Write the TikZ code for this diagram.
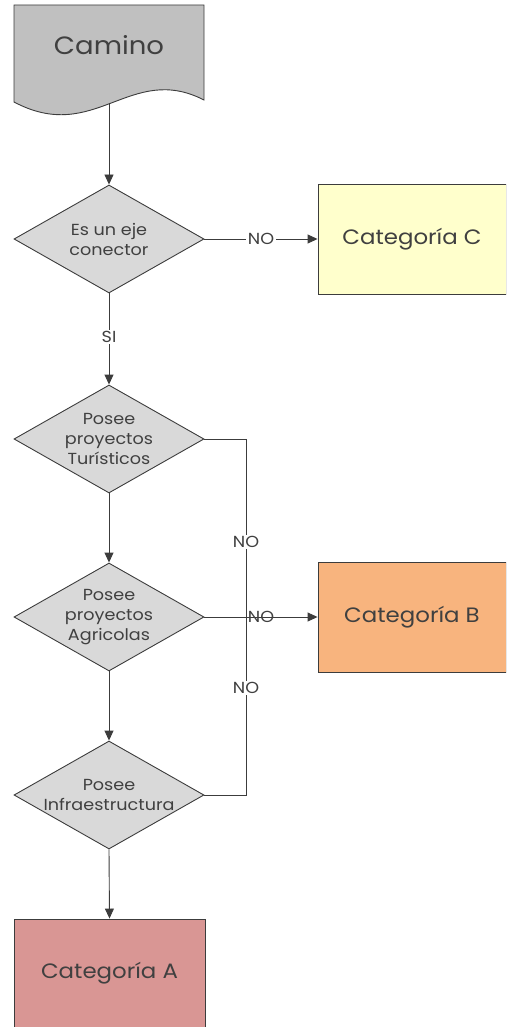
\documentclass[tikz,border=0pt]{standalone}
\usepackage{fontspec}
\setmainfont{Poppins}[FakeStretch=1.1]
\usetikzlibrary{shapes.geometric,arrows.meta}
\definecolor{ln}{HTML}{3C3C3C}
\definecolor{txt}{HTML}{404040}
\definecolor{dgray}{HTML}{D9D9D9}
\definecolor{docgray}{HTML}{C0C0C0}
\definecolor{catc}{HTML}{FFFFCC}
\definecolor{catb}{HTML}{F8B47E}
\definecolor{cata}{HTML}{D99694}
\tikzset{
  dec/.style={diamond, draw=ln, fill=dgray, minimum width=190pt, minimum height=108pt, inner sep=0pt, line width=0.9pt},
  dtext/.style={align=center, text=txt, font=\fontsize{16}{20}\selectfont, inner sep=0pt},
  cat/.style={rectangle, draw=ln, line width=0.9pt, minimum width=188pt, minimum height=110pt, text=txt, font=\fontsize{20.8}{22}\selectfont},
  conn/.style={draw=ln, line width=0.9pt},
  arr/.style={conn, -{Triangle[length=10pt,width=9pt]}},
  lbl/.style={font=\fontsize{16}{16}\selectfont, text=txt, inner sep=1.5pt}
}
\begin{document}
\begin{tikzpicture}[x=1pt,y=-1pt]
\useasboundingbox (0,0) rectangle (506,1027);
\clip (0,0) rectangle (506,1027);
% Camino document shape
\path[draw=ln, fill=docgray, line width=0.9pt] (14,5) -- (204,5) -- (204,100) .. controls (130,62) and (95,145) .. (14,102) -- cycle;
\node[text=txt, font=\fontsize{25}{25}\selectfont] (cam) at (109,45) {Camino};
\coordinate (camb) at (109,103);
% decisions
\node[dec] (d1) at (109,239) {};
\node[dtext] (t1) at (d1) {Es un eje\\conector};
\node[dec] (d2) at (109,439) {};
\node[dtext] (t2) at (d2) {Posee\\proyectos\\Turísticos};
\node[dec] (d3) at (109,617) {};
\node[dtext] (t3) at (d3) {Posee\\proyectos\\Agricolas};
\node[dec] (d4) at (109,795) {};
\node[dtext] (t4) at (d4) {Posee\\Infraestructura};
% categories
\node[cat, fill=catc] (cc) at (412,239) {Categoría C};
\node[cat, fill=catb] (cb) at (412,617) {Categoría B};
\node[cat, fill=cata, minimum width=191pt, minimum height=108pt] (ca) at (109.5,973) {Categoría A};
% connectors
\draw[arr] (camb) -- (d1.north);
\draw[arr] (d1.east) -- node[lbl, fill=white] {NO} (cc.west);
\draw[arr] (d1.south) -- node[lbl, fill=white, pos=0.48] {SI} (d2.north);
\draw[arr] (d2.south) -- (d3.north);
\draw[arr] (d3.east) -- node[lbl, pos=0.5] {NO} (cb.west);
\draw[arr] (d3.south) -- (d4.north);
\draw[arr] (d4.south) -- (ca.north);
\coordinate (j) at (246,617);
\draw[conn] (d2.east) -| node[lbl, fill=white, pos=0.79] {NO} (j);
\draw[conn] (d4.east) -| node[lbl, fill=white, pos=0.80] {NO} (j);
\end{tikzpicture}
\end{document}
